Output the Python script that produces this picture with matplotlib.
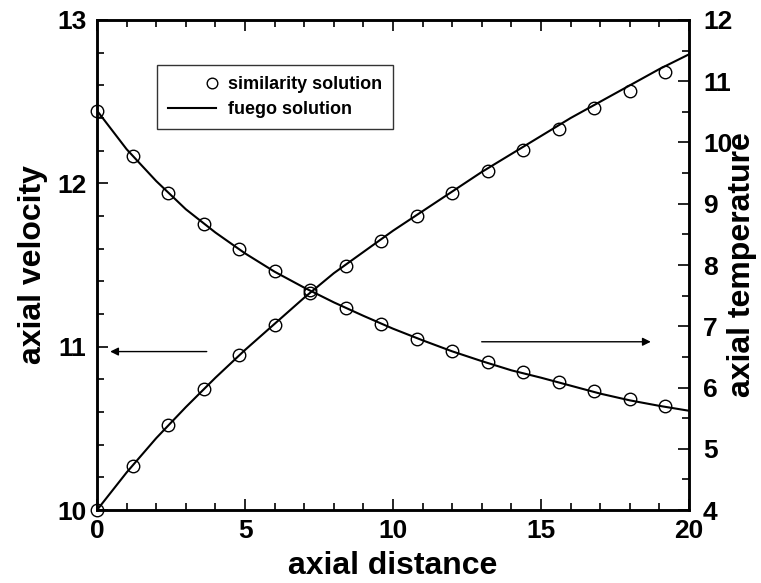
import numpy as np
import matplotlib
matplotlib.use("Agg")
import matplotlib.pyplot as plt
from matplotlib.ticker import MultipleLocator
from matplotlib.legend_handler import HandlerLine2D

plt.rcParams['font.family'] = ['Liberation Sans', 'DejaVu Sans']
plt.rcParams['font.weight'] = 'bold'

# similarity solution (circles)
x_sim = [0, 1.2, 2.4, 3.6, 4.8, 6.0, 7.2, 8.4, 9.6, 10.8, 12.0,
         13.2, 14.4, 15.6, 16.8, 18.0, 19.2]
vel_sim = [10.00, 10.27, 10.52, 10.74, 10.95, 11.135, 11.33, 11.494, 11.645,
           11.797, 11.943, 12.077, 12.204, 12.332, 12.459, 12.568, 12.684]
temp_sim = [10.51, 9.78, 9.18, 8.67, 8.26, 7.90, 7.59, 7.30, 7.04,
            6.80, 6.59, 6.41, 6.25, 6.09, 5.94, 5.81, 5.69]

# fuego solution (lines)
x_fuego = list(range(0, 21))
vel_fuego = [10.00, 10.23, 10.44, 10.63, 10.81, 10.98, 11.14, 11.30, 11.45, 11.58,
             11.71, 11.83, 11.95, 12.07, 12.18, 12.29, 12.40, 12.50, 12.60, 12.70, 12.79]
temp_fuego = [10.52, 9.89, 9.37, 8.91, 8.53, 8.19, 7.89, 7.63, 7.39, 7.17,
              6.96, 6.77, 6.59, 6.43, 6.28, 6.16, 6.03, 5.90, 5.79, 5.70, 5.62]


# legend marker sits at the right end of the handle, next to the text
# (with one point the handler marks the middle of a 3-point line, so centre it there)
class RightMarker(HandlerLine2D):
    def get_xdata(self, legend, xdescent, ydescent, width, height, fontsize):
        pos = -xdescent + width - 0.25 * fontsize
        return [pos - 1, pos + 1], [pos]


fig = plt.figure(figsize=(7.61, 5.83), dpi=100)
ax = fig.add_axes([0.1275, 0.1252, 0.778, 0.8405])
ax2 = ax.twinx()

circ, = ax.plot(x_sim, vel_sim, 'o', ms=9, mfc='none', mec='k', mew=1.0,
                label='similarity solution', clip_on=False, zorder=3)
line, = ax.plot(x_fuego, vel_fuego, '-', color='k', lw=1.5, label='fuego solution')
ax2.plot(x_sim, temp_sim, 'o', ms=9, mfc='none', mec='k', mew=1.0, clip_on=False)
ax2.plot(x_fuego, temp_fuego, '-', color='k', lw=1.5)

ax.set_xlim(0, 20)
ax.set_ylim(10, 13)
ax2.set_ylim(4, 12)

ax.xaxis.set_major_locator(MultipleLocator(5))
ax.xaxis.set_minor_locator(MultipleLocator(1))
ax.yaxis.set_major_locator(MultipleLocator(1))
ax.yaxis.set_minor_locator(MultipleLocator(0.2))
ax2.yaxis.set_major_locator(MultipleLocator(1))
ax2.yaxis.set_minor_locator(MultipleLocator(0.5))

ax.tick_params(which='both', direction='in', top=True, labelsize=19, width=1.2)
ax.tick_params(which='major', length=8)
ax.tick_params(which='minor', length=5)
ax.tick_params(axis='x', pad=6.5)
ax.tick_params(axis='y', pad=7.5)
ax2.tick_params(which='both', direction='in', labelsize=19, width=1.2, pad=10)
ax2.tick_params(which='major', length=8)
ax2.tick_params(which='minor', length=5)
for a in (ax, ax2):
    for s in a.spines.values():
        s.set_linewidth(1.8)

ax.set_xlabel('axial distance', fontsize=23, fontweight='bold', labelpad=6)
ax.set_ylabel('axial velocity', fontsize=23, fontweight='bold', labelpad=7)
ax2.set_ylabel('axial temperature', fontsize=23, fontweight='bold', labelpad=-4)

# arrows pointing to the axis of each curve
ax.annotate('', xy=(0.35, 10.97), xytext=(3.8, 10.97),
            arrowprops=dict(arrowstyle='-|>', color='k', lw=1.0, mutation_scale=12))
ax.annotate('', xy=(18.8, 11.03), xytext=(12.9, 11.03),
            arrowprops=dict(arrowstyle='-|>', color='k', lw=1.0, mutation_scale=12))

leg = ax.legend(handles=[circ, line], loc='upper left', bbox_to_anchor=(0.101, 0.908),
                borderaxespad=0, fontsize=13, frameon=True, fancybox=False,
                edgecolor='k', handlelength=2.7, handletextpad=0.65, markerscale=0.85,
                borderpad=0.6, labelspacing=0.45,
                handler_map={circ: RightMarker(numpoints=1)})
leg.get_frame().set_linewidth(1.0)

fig.savefig('out.png', dpi=100)
